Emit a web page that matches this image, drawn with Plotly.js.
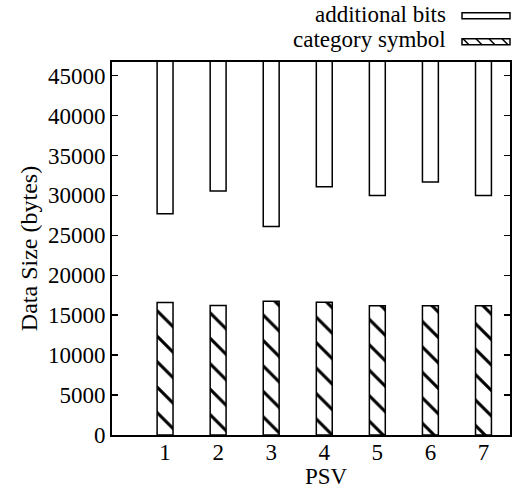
<!DOCTYPE html>
<html>
<head>
<meta charset="utf-8">
<script src="https://cdn.plot.ly/plotly-3.0.1.min.js"></script>
<style>html,body{margin:0;padding:0;background:#fff;}</style>
</head>
<body>
<div id="chart" style="width:515px;height:489px;"></div>
<script>
// Data
const psv = [1, 2, 3, 4, 5, 6, 7];
const categorySymbol = [16590, 16210, 16750, 16630, 16170, 16170, 16170];
// "additional bits" boxes: bottom edge of each box; boxes run past the top of the y range
const additionalBitsBottom = [27710, 30540, 26120, 31080, 30000, 31670, 30000];
const additionalBitsTop = [60000, 60000, 60000, 60000, 60000, 60000, 60000];
const yTicks = [0, 5000, 10000, 15000, 20000, 25000, 30000, 35000, 40000, 45000];
const seriesNames = ['additional bits', 'category symbol'];

const font = '"Liberation Serif", "Times New Roman", serif';
const fs = 23;

const traces = [
  {
    type: 'bar', name: seriesNames[1], x: psv, y: categorySymbol, width: 0.3,
    marker: {
      color: 'white',
      line: {color: 'black', width: 1.5},
      pattern: {shape: '\\', size: 18, solidity: 0.17, fgcolor: 'black', fgopacity: 1, bgcolor: 'white', fillmode: 'overlay'}
    },
    showlegend: false, hoverinfo: 'skip'
  },
  {
    type: 'bar', name: seriesNames[0], x: psv,
    base: additionalBitsBottom,
    y: additionalBitsTop.map((t, i) => t - additionalBitsBottom[i]),
    width: 0.3,
    marker: {color: 'white', line: {color: 'black', width: 1.5}},
    showlegend: false, hoverinfo: 'skip'
  }
];

// legend swatches (paper coords relative to the plot area)
const px = v => (v - 112) / 398;
const py = v => (435 - v) / 373.3;
const shapes = [
  {type: 'rect', xref: 'paper', yref: 'paper', x0: px(462), x1: px(510), y0: py(18.5), y1: py(12.5),
   line: {color: 'black', width: 1.5}, fillcolor: 'white'},
  {type: 'rect', xref: 'paper', yref: 'paper', x0: px(462), x1: px(510), y0: py(44.5), y1: py(38.5),
   line: {color: 'black', width: 1.5}, fillcolor: 'white'}
];
[462, 475, 488, 501].forEach(s => {
  shapes.push({type: 'line', xref: 'paper', yref: 'paper', x0: px(s + 1), x1: px(Math.min(s + 7, 510)), y0: py(38.5), y1: py(44.5),
    line: {color: 'black', width: 1.5}});
});

const tf = {family: font, size: fs, color: 'black'};

const layout = {
  width: 515, height: 489,
  margin: {l: 112, r: 5, t: 62, b: 54},
  paper_bgcolor: 'white', plot_bgcolor: 'white',
  barmode: 'overlay',
  showlegend: false,
  font: tf,
  xaxis: {
    range: [0, 7.5], tickvals: psv, ticktext: psv.map(String),
    ticks: '', showgrid: false, zeroline: false,
    showline: true, linewidth: 2, linecolor: 'black', mirror: true,
    tickfont: tf, ticklabelstandoff: -5
  },
  yaxis: {
    range: [0, 46700], tickvals: yTicks, ticktext: yTicks.map(String),
    ticks: 'inside', ticklen: 6, tickwidth: 1.5, tickcolor: 'black',
    showgrid: false, zeroline: false,
    showline: true, linewidth: 2, linecolor: 'black', mirror: 'ticks',
    tickfont: tf,
    title: {text: 'Data Size (bytes)', font: {family: font, size: 24, color: 'black'}, standoff: 4}
  },
  annotations: [
    {text: 'PSV', xref: 'x', yref: 'paper', x: 4.05, y: py(477), xanchor: 'center', yanchor: 'middle', showarrow: false, font: tf},
    {text: seriesNames[0], xref: 'paper', yref: 'paper', x: px(448), y: py(14), xanchor: 'right', yanchor: 'middle', showarrow: false, font: tf},
    {text: seriesNames[1], xref: 'paper', yref: 'paper', x: px(448), y: py(39), xanchor: 'right', yanchor: 'middle', showarrow: false, font: tf}
  ],
  shapes: shapes
};

Plotly.newPlot('chart', traces, layout, {displayModeBar: false, staticPlot: true});
</script>
</body>
</html>
